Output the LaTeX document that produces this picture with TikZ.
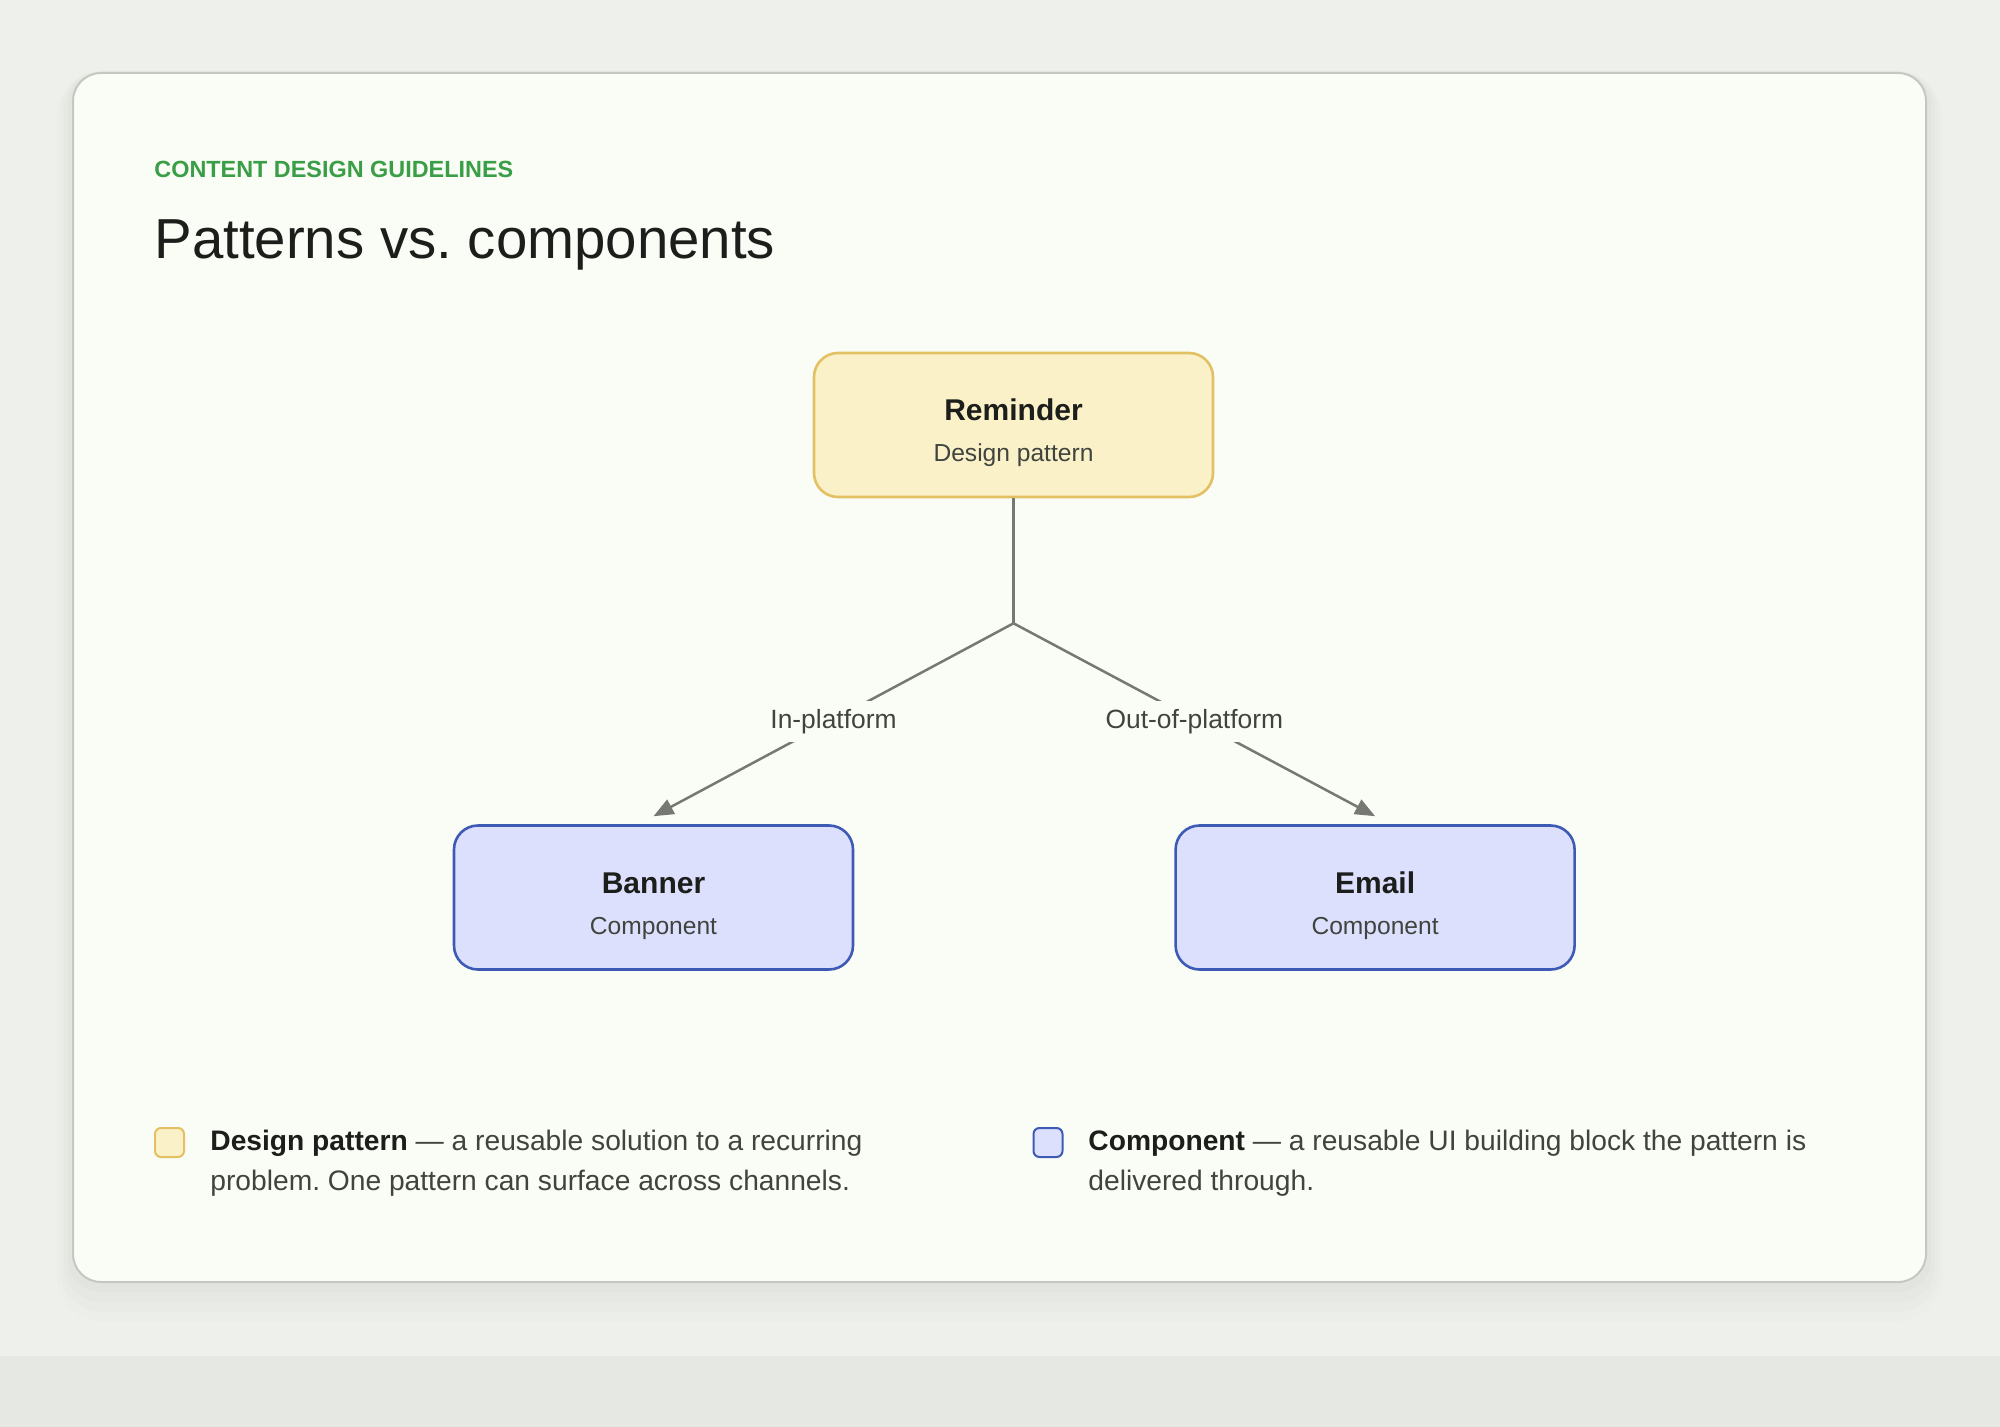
\documentclass[tikz,border=0pt]{standalone}
\usepackage{fontspec}
\setmainfont{Liberation Sans}
\usetikzlibrary{arrows.meta, positioning}
\frenchspacing

\definecolor{pagebg}{HTML}{EEF0EB}
\definecolor{bandbg}{HTML}{E6E9E3}
\definecolor{cardbg}{HTML}{FAFDF5}
\definecolor{cardline}{HTML}{C3C9C1}
\definecolor{eyebrowgreen}{HTML}{3A9E46}
\definecolor{darktext}{HTML}{1C1E1B}
\definecolor{subtext}{HTML}{40443F}
\definecolor{patternfill}{HTML}{FBF1C8}
\definecolor{patternline}{HTML}{E3C063}
\definecolor{compfill}{HTML}{DCE0FD}
\definecolor{compline}{HTML}{3D5BB5}
\definecolor{edgegray}{HTML}{767873}

\newcommand{\boxtext}[2]{{\fontsize{15}{20.5}\selectfont\bfseries\color{darktext}\rule{0pt}{19pt}#1}\\#2}

\begin{document}
\begin{tikzpicture}[
    x=0.5pt, y=-0.5pt,
    pattern_box/.style={
        rectangle,
        rounded corners=12pt,
        draw=patternline, line width=1.3pt,
        fill=patternfill,
        minimum width=199.5pt,
        minimum height=72pt,
        align=center,
        text=subtext,
        font=\fontsize{12.3}{20.5}\selectfont
    },
    component_box/.style={
        pattern_box,
        draw=compline,
        fill=compfill
    },
    edge_label/.style={
        fill=cardbg,
        text=subtext,
        font=\fontsize{13.2}{15}\selectfont,
        inner xsep=3pt, inner ysep=4pt,
        yshift=-1pt
    },
    link/.style={
        line width=1.25pt, draw=edgegray
    },
    arrow/.style={
        link, -{Triangle[length=10pt,width=8pt]}
    },
    swatch/.style={
        rectangle,
        rounded corners=3pt,
        line width=1pt,
        minimum size=14.5pt,
        inner sep=0pt
    },
    legend_text/.style={
        anchor=base west,
        align=left,
        text=subtext,
        font=\fontsize{14.1}{20}\selectfont,
        inner sep=0pt
    }
]

% page and card
\useasboundingbox (0,0) rectangle (2000,1427);
\fill[pagebg] (0,0) rectangle (2000,1427);
\fill[bandbg] (0,1356) rectangle (2000,1427);
\fill[black, opacity=0.008, rounded corners=24pt] (56,70) rectangle (1943,1322);
\fill[black, opacity=0.01, rounded corners=21pt] (60,71) rectangle (1939,1312);
\fill[black, opacity=0.012, rounded corners=18pt] (64,72) rectangle (1935,1302);
\fill[black, opacity=0.015, rounded corners=16pt] (68,73) rectangle (1931,1292);
\draw[cardline, fill=cardbg, line width=1pt, rounded corners=14pt] (73,73) rectangle (1926,1282);

% heading
\node (eyebrow) [anchor=base west, inner sep=0pt, text=eyebrowgreen, font=\fontsize{11.7}{14}\selectfont\bfseries] at (154,178) {CONTENT DESIGN GUIDELINES};
\node (title) [anchor=base west, inner sep=0pt, text=darktext, font=\fontsize{28.2}{34}\selectfont] at (154,259) {Patterns vs. components};

% diagram
\node (reminder) [pattern_box] at (1013.5,425) {\boxtext{Reminder}{Design pattern}};
\coordinate [below=62.5pt of reminder.south] (fork);
\node (banner) [component_box] at (653.5,897.5) {\boxtext{Banner}{Component}};
\node (email) [component_box, right=160pt of banner] {\boxtext{Email}{Component}};

\draw [link] (reminder) -- (fork);
\draw [arrow] (fork) -- node[edge_label] {In-platform} ([yshift=4pt]banner.north);
\draw [arrow] (fork) -- node[edge_label] {Out-of-platform} ([yshift=4pt]email.north);

% legend
\node (pattern_key) [swatch, draw=patternline, fill=patternfill] at (169.5,1142.5) {};
\node (pattern_note) [legend_text] at (210,1190) {\textbf{\color{darktext}Design pattern} — a reusable solution to a recurring\\problem. One pattern can surface across channels.};
\node (component_key) [swatch, draw=compline, fill=compfill] at (1048,1142.5) {};
\node (component_note) [legend_text] at (1088,1190) {\textbf{\color{darktext}Component} — a reusable UI building block the pattern is\\delivered through.};

\end{tikzpicture}
\end{document}
